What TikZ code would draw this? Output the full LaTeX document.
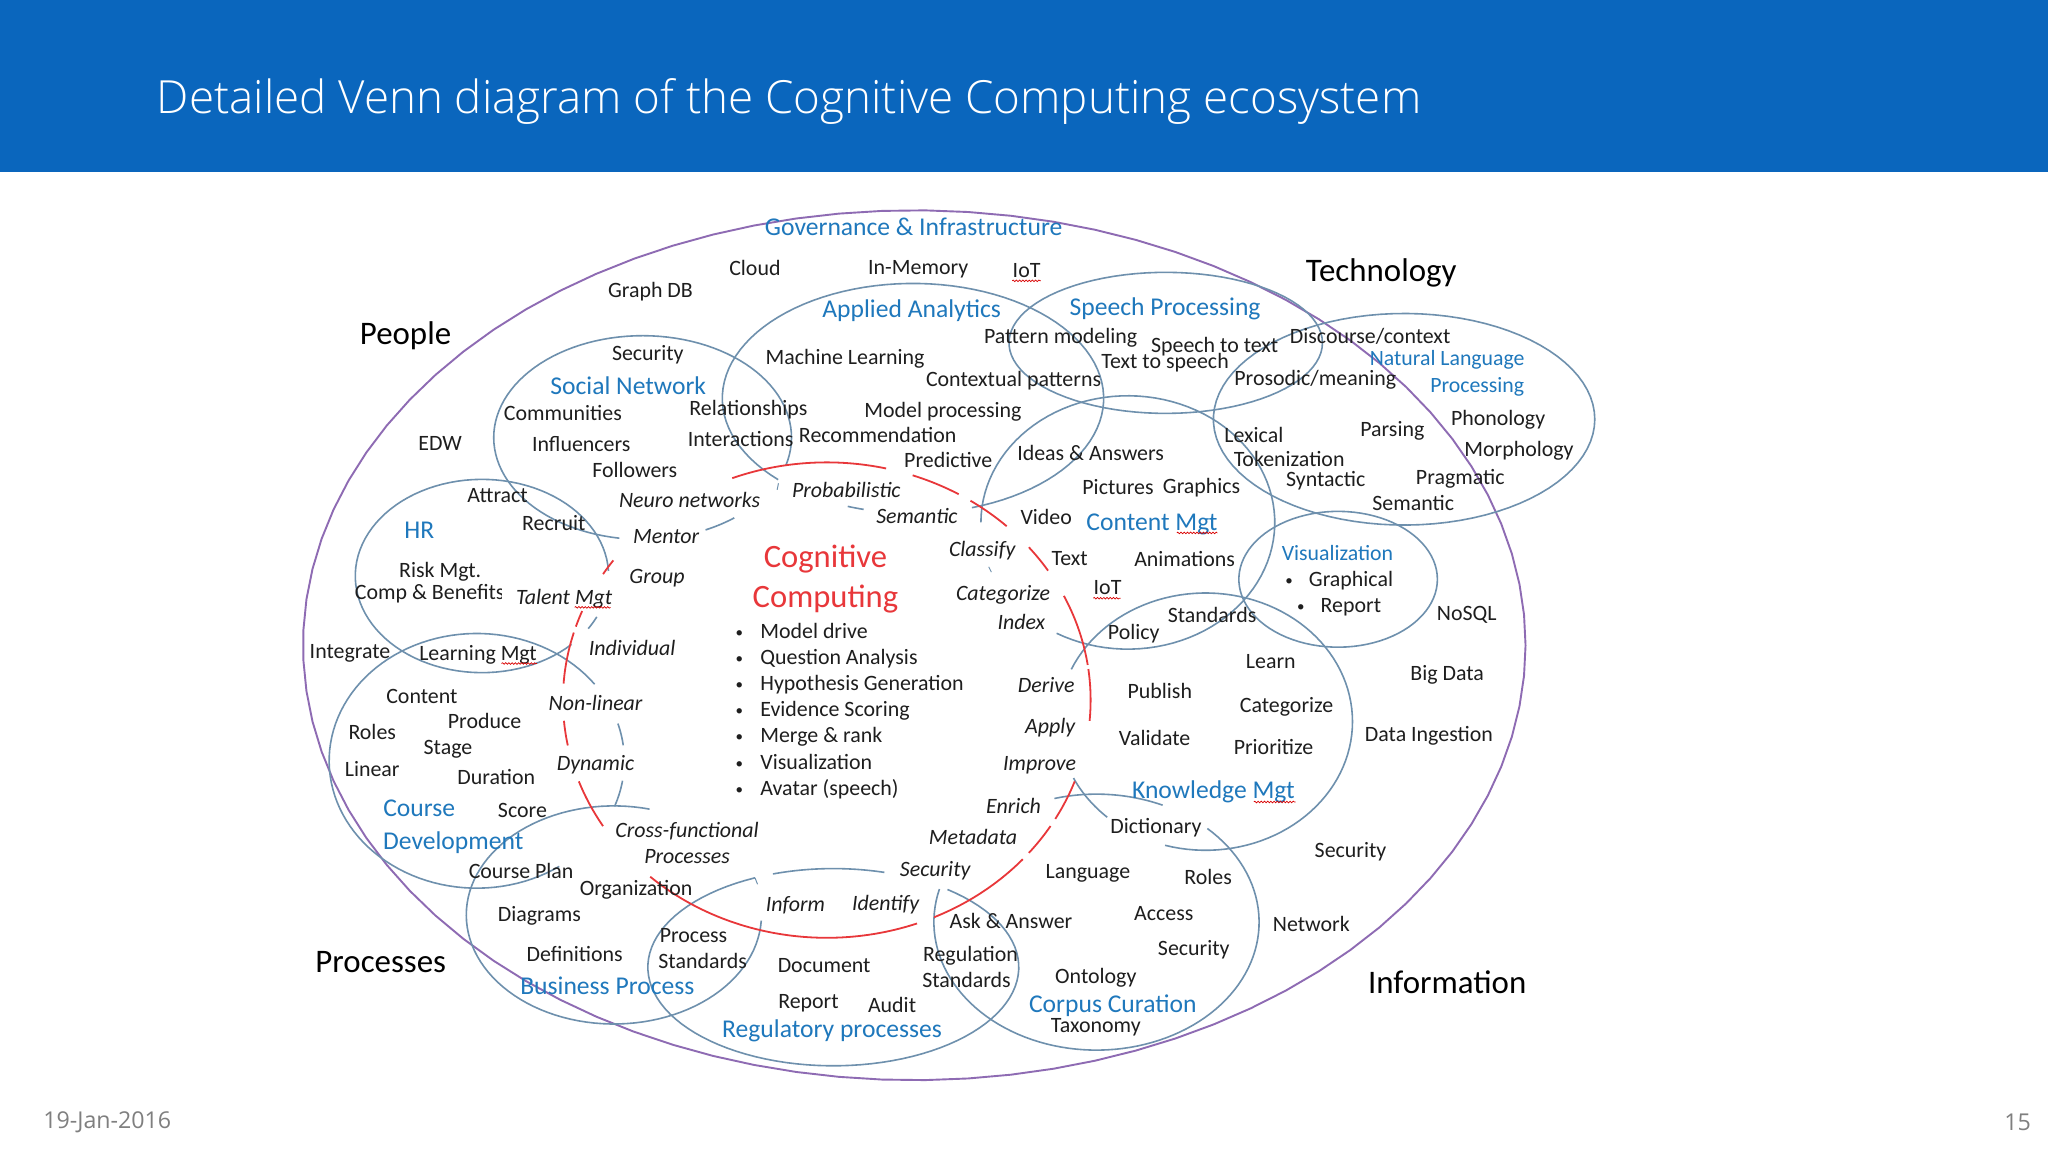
\documentclass[tikz,border=0pt]{standalone}
\usepackage{fontspec}
\setmainfont{Carlito}
\newfontfamily\titlefont{Open Sans Light}
\newfontfamily\footfont{Open Sans}
\usetikzlibrary{decorations.pathmorphing}
\definecolor{barblue}{HTML}{0A66BD}
\definecolor{ringblue}{HTML}{6E90AD}
\definecolor{outerpurple}{HTML}{8E6BB3}
\definecolor{ccred}{HTML}{E8373A}
\definecolor{headblue}{HTML}{1F78BC}
\definecolor{ink}{HTML}{1E1E1E}
\definecolor{footgray}{HTML}{7F7F7F}
\newcommand{\ellarc}[7]{\draw[#1] plot[domain=#6:#7,samples=90] ({#2+#4*cos(\x)},{#3+#5*sin(\x)});}
\tikzset{
  lbl/.style={inner sep=0pt,xshift=1.3pt,yshift=-2.6pt,text=ink,font=\fontsize{21.9}{24}\selectfont,text height=15pt,text depth=5pt},
  ital/.style={lbl,font=\fontsize{21.9}{24}\selectfont\itshape},
  dotmark/.style={inner sep=0pt,yshift=-2.6pt,text=ink,font=\fontsize{15}{18}\selectfont,text height=11pt,text depth=3pt},
  head/.style={inner sep=0pt,yshift=-2.6pt,text=headblue,font=\fontsize{25.6}{28}\selectfont,text height=17pt,text depth=6pt},
  headsm/.style={head,font=\fontsize{21.8}{24}\selectfont},
  big/.style={inner sep=0pt,yshift=-2.6pt,text=black,font=\fontsize{32.9}{36}\selectfont,text height=22pt,text depth=7pt},
  ccl/.style={inner sep=0pt,yshift=-2.6pt,text=ccred,font=\fontsize{32.6}{36}\selectfont,text height=22pt,text depth=7pt},
  ring/.style={ringblue,line width=1.6pt},
  outer/.style={outerpurple,line width=1.9pt},
  redarc/.style={ccred,line width=1.8pt},
  squig/.style={red!85!black,line width=.7pt,decorate,decoration={snake,amplitude=.8pt,segment length=3.2pt}},
  foot/.style={inner sep=0pt,text=footgray,font=\footfont\fontsize{23.2}{26}\selectfont},
}
\begin{document}
\begin{tikzpicture}[x=1.30612pt,y=-1.30612pt]
\useasboundingbox (0,0) rectangle (1568,882);
\fill[white] (0,0) rectangle (1568,882);
\fill[barblue] (0,0) rectangle (1568,132);
\node[anchor=west,inner sep=0pt,text=white,font=\titlefont\fontsize{45.7}{50}\selectfont] (title) at (120,78) {Detailed Venn diagram of the Cognitive Computing ecosystem};
\node[foot,anchor=west] (date) at (33,859) {19-Jan-2016};
\node[foot,anchor=east] (page) at (1555,859) {15};
% outer
\ellarc{outer}{700}{494}{468}{333}{0}{360}
% rings
\ellarc{ring}{892.5}{262.5}{120}{54}{0}{360}
\ellarc{ring}{1075}{321}{146}{81}{0}{360}
\ellarc{ring}{1024.5}{443.5}{76}{52}{0}{360}
% social network
\ellarc{ring}{492}{335}{114}{78}{99}{376}
\ellarc{ring}{492}{335}{114}{78}{52}{65}
% applied analytics
\ellarc{ring}{699}{305}{146}{88}{135}{432}
\ellarc{ring}{699}{305}{146}{88}{105}{110}
% content mgt
\ellarc{ring}{863.5}{400}{112.5}{97}{180}{479}
% knowledge mgt
\ellarc{ring}{923}{552.5}{112.5}{98.5}{204}{466}
\ellarc{ring}{923}{552.5}{112.5}{98.5}{132}{154}
% corpus curation
\ellarc{ring}{839.5}{706}{124.5}{98}{255}{294}
\ellarc{ring}{839.5}{706}{124.5}{98}{313}{555}
% HR
\ellarc{ring}{369}{441}{97}{74}{45}{357}
\ellarc{ring}{369}{441}{97}{74}{25}{33}
% course development
\ellarc{ring}{365}{582.5}{113}{97.5}{56}{323}
\ellarc{ring}{365}{582.5}{113}{97.5}{-17}{-7}
\ellarc{ring}{365}{582.5}{113}{97.5}{9}{21}
% business process
\ellarc{ring}{470}{700.5}{113}{83.5}{3}{284}
% regulatory
\ellarc{ring}{638}{740.5}{142}{75.5}{-52}{245}
\ellarc{ring}{638}{740.5}{142}{75.5}{251}{286}
% small stray ticks
\draw[ring,line width=1pt] (757,434) -- (759,438);
\draw[ring,line width=1pt] (578,672) -- (580,677);
\draw[ring,line width=1pt] (596,370) -- (595,375);
% red cognitive computing ring
\foreach \a/\b in {249/283,289/300,303/313,320/327,334/351.5,352.5/365,20/30,32/40,42/66,70/132,148/160,169/175,184/196.5,198/202,212/216}{
  \ellarc{redarc}{633}{536}{202}{182}{\a}{\b}
}
% big labels
\node[big] (people) at (310.5,256) {People};
\node[big] (technology) at (1057.5,208) {Technology};
\node[big] (processes) at (291.5,737) {Processes};
\node[big] (information) at (1108,753) {Information};
% blue headings
\node[head] (gov) at (699.5,174) {Governance \& Infrastructure};
\node[head] (aa) at (698,237) {Applied Analytics};
\node[head] (sp) at (892,235) {Speech Processing};
\node[head] (sn) at (481,296) {Social Network};
\node[headsm] (nlp1) at (1108,274) {Natural Language};
\node[headsm] (nlp2) at (1131,294) {Processing};
\node[head] (cm) at (882,400) {Content Mgt};
\node[head] (hr) at (321,406) {HR};
\node[headsm] (vis) at (1024,423) {Visualization};
\node[head] (km) at (929,605) {Knowledge Mgt};
\node[head] (cd1) at (321,619) {Course};
\node[head] (cd2) at (347,644) {Development};
\node[head] (bp) at (465,755) {Business Process};
\node[head] (rp) at (637,788) {Regulatory processes};
\node[head] (cc) at (852,769) {Corpus Curation};
% red title
\node[ccl] (cog1) at (632,427) {Cognitive};
\node[ccl] (cog2) at (632,457) {Computing};
% black labels
\node[lbl] (l1) at (497,222) {Graph DB};
\node[lbl] (l2) at (577,205) {Cloud};
\node[lbl] (l3) at (702,204) {In-Memory};
\node[lbl] (iota) at (785,207) {IoT};
\node[lbl] (l5) at (495,270) {Security};
\node[lbl] (l6) at (646,273) {Machine Learning};
\node[lbl] (l7) at (811,257) {Pattern modeling};
\node[lbl] (l8) at (929,264) {Speech to text};
\node[lbl] (l9) at (891,276) {Text to speech};
\node[lbl] (l10) at (1048,257) {Discourse/context};
\node[lbl] (l11) at (1006,289) {Prosodic/meaning};
\node[lbl] (l12) at (775,290) {Contextual patterns};
\node[lbl] (l13) at (572,312) {Relationships};
\node[lbl] (l14) at (430,316) {Communities};
\node[lbl] (l15) at (721,314) {Model processing};
\node[lbl] (l16) at (1065,328) {Parsing};
\node[lbl] (l17) at (1146,320) {Phonology};
\node[lbl] (l18) at (959,333) {Lexical};
\node[lbl] (l19) at (671,333) {Recommendation};
\node[lbl] (l20) at (566,336) {Interactions};
\node[lbl] (l21) at (444,340) {Influencers};
\node[lbl] (l22) at (336,339) {EDW};
\node[lbl] (l23) at (1162,344) {Morphology};
\node[lbl] (l24) at (834,347) {Ideas \& Answers};
\node[lbl] (l25) at (986,351) {Tokenization};
\node[lbl] (l26) at (725,352) {Predictive};
\node[lbl] (l27) at (485,360) {Followers};
\node[lbl] (l28) at (1014,367) {Syntactic};
\node[lbl] (l29) at (1117,365) {Pragmatic};
\node[lbl] (l30) at (855,373) {Pictures};
\node[lbl] (l31) at (919,372) {Graphics};
\node[lbl] (l32) at (1081,385) {Semantic};
\node[lbl] (l33) at (380,379) {Attract};
\node[lbl] (l34) at (423,400) {Recruit};
\node[lbl] (l35) at (800,396) {Video};
\node[lbl] (l36) at (818,427) {Text};
\node[lbl] (l37) at (906,428) {Animations};
\node[lbl] (l38) at (336,436) {Risk Mgt.};
\node[lbl] (l39) at (328,453) {Comp \& Benefits};
\fill[white] (384.5,444) rectangle (390,463);
\node[lbl] (l40) at (1122,469) {NoSQL};
\node[lbl] (iotb) at (847,449) {IoT};
\node[lbl] (l42) at (927,471) {Standards};
\node[lbl] (l43) at (867,484) {Policy};
\node[lbl] (l44) at (972,506) {Learn};
\node[lbl] (l45) at (1107,515) {Big Data};
\node[lbl] (l46) at (887,529) {Publish};
\node[lbl] (l47) at (984,540) {Categorize};
\node[lbl] (l48) at (883,565) {Validate};
\node[lbl] (l49) at (974,572) {Prioritize};
\node[lbl] (l50) at (1093,562) {Data Ingestion};
\node[lbl] (l51) at (884,632) {Dictionary};
\node[lbl] (l52) at (1033,651) {Security};
\node[lbl] (l53) at (832,667) {Language};
\node[lbl] (l54) at (924,671) {Roles};
\node[lbl] (l55) at (890,699) {Access};
\node[lbl] (l56) at (1003,707) {Network};
\node[lbl] (l57) at (913,726) {Security};
\node[lbl] (l58) at (773,705) {Ask \& Answer};
\node[lbl] (l59) at (742,730) {Regulation};
\node[lbl] (l60) at (739,750) {Standards};
\node[lbl] (l61) at (838,747) {Ontology};
\node[lbl] (l62) at (838,785) {Taxonomy};
\node[lbl] (l63) at (630,739) {Document};
\node[lbl] (l64) at (618,766) {Report};
\node[lbl] (l65) at (682,769) {Audit};
\node[lbl] (l66) at (530,716) {Process};
\node[lbl] (l67) at (537,736) {Standards};
\node[lbl] (l68) at (439,730) {Definitions};
\node[lbl] (l69) at (412,700) {Diagrams};
\node[lbl] (l70) at (486,680) {Organization};
\node[lbl] (l71) at (398,667) {Course Plan};
\node[lbl] (l72) at (399,620) {Score};
\node[lbl] (l73) at (379,595) {Duration};
\node[lbl] (l74) at (284,589) {Linear};
\node[lbl] (l75) at (342,572) {Stage};
\node[lbl] (l76) at (370,552) {Produce};
\node[lbl] (l77) at (284,560) {Roles};
\node[lbl] (l78) at (322,533) {Content};
\node[lbl] (l79) at (267,498) {Integrate};
\node[lbl] (l80) at (365,500) {Learning Mgt};
% italics
\node[ital] (i1) at (527,383) {Neuro networks};
\node[ital] (i2) at (647,375) {Probabilistic};
\fill[white] (664,381.5) rectangle (692,386);
\node[ital] (i3) at (701,395) {Semantic};
\node[ital] (i4) at (509,410) {Mentor};
\node[ital] (i5) at (751,420) {Classify};
\node[ital] (i6) at (502,441) {Group};
\node[ital] (i7) at (767,454) {Categorize};
\node[ital] (i8) at (431,457) {Talent Mgt};
\node[ital] (i9) at (781,476) {Index};
\node[ital] (i10) at (483,496) {Individual};
\node[ital] (i11) at (800,524) {Derive};
\node[ital] (i12) at (455,538) {Non-linear};
\node[ital] (i13) at (803,556) {Apply};
\node[ital] (i14) at (455,584) {Dynamic};
\node[ital] (i15) at (795,584) {Improve};
\node[ital] (i16) at (775,617) {Enrich};
\node[ital] (i17) at (744,641) {Metadata};
\node[ital] (i18) at (525,635) {Cross-functional};
\node[ital] (i19) at (525,655) {Processes};
\node[ital] (i20) at (715,665) {Security};
\node[ital] (i21) at (608,692) {Inform};
\node[ital] (i22) at (677,691) {Identify};
% cognitive computing list
\foreach \yy/\txt/\nm in {483/Model drive/a,503/Question Analysis/b,523/Hypothesis Generation/c,543/Evidence Scoring/d,563/Merge \& rank/e,583/Visualization/f,603/Avatar (speech)/g}{
  \node[dotmark] (bul\nm) at (566,\yy) {•};
  \node[lbl,anchor=west] (item\nm) at (581,\yy) {\txt};
}
% visualization list
\node[dotmark] (bulh) at (987,443) {•};
\node[lbl,anchor=west] (gr) at (1001,443) {Graphical};
\node[dotmark] (buli) at (996,463) {•};
\node[lbl,anchor=west] (rep) at (1010,463) {Report};
% spell-check squiggles
\draw[squig] (775,215) -- (797,215);
\draw[squig] (837,458) -- (858,458);
\draw[squig] (440,465) -- (467.5,465);
\draw[squig] (384,508) -- (411,508);
\draw[squig] (901,408) -- (932,408);
\draw[squig] (960,614) -- (992,614);
\end{tikzpicture}
\end{document}
